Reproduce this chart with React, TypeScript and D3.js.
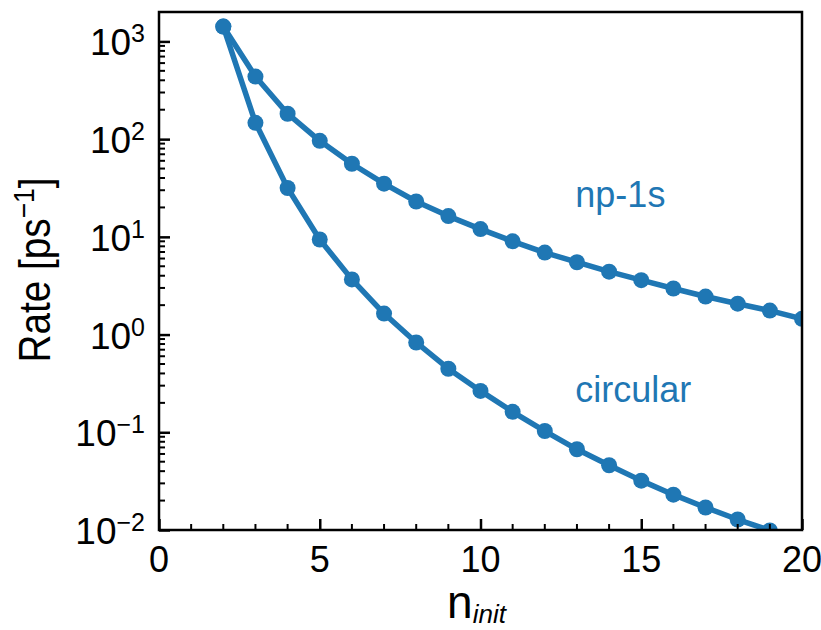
import React, { useEffect, useRef } from 'react';
import * as d3 from 'd3';

// n_init values and rates (ps^-1)
const nInit = [2, 3, 4, 5, 6, 7, 8, 9, 10, 11, 12, 13, 14, 15, 16, 17, 18, 19, 20];
const np1s = [1420, 437, 182, 96, 56, 35, 23, 16.3, 12, 9.0, 6.9, 5.5, 4.4, 3.6, 2.96, 2.45, 2.07, 1.76, 1.45];
const circular = [1420, 147, 31.6, 9.4, 3.67, 1.64, 0.83, 0.447, 0.265, 0.162, 0.103, 0.067, 0.046, 0.032, 0.023, 0.017, 0.0128, 0.0099];
const xTicks = [0, 5, 10, 15, 20];
const yTickExps = [-2, -1, 0, 1, 2, 3];
const seriesLabels = [
  { text: 'np-1s', n: 12.95, v: 20 },
  { text: 'circular', n: 12.95, v: 0.205 },
];

const BLUE = '#1f77b4';
const FONT = '"Liberation Sans", Arial, Helvetica, sans-serif';

const App = () => {
  const ref = useRef<SVGSVGElement>(null);
  const dim = { width: 821, height: 630 };
  const m = { left: 159, right: 802, top: 12, bottom: 530 };

  useEffect(() => {
    const svg = d3.select(ref.current);
    svg.selectAll('*').remove();

    const x = d3.scaleLinear().domain([0, 20]).range([m.left, m.right]);
    const y = d3.scaleLog().domain([1e-2, 2e3]).range([m.bottom, m.top]);

    svg
      .append('defs')
      .append('clipPath')
      .attr('id', 'plotclip')
      .append('rect')
      .attr('x', m.left)
      .attr('y', m.top)
      .attr('width', m.right - m.left)
      .attr('height', m.bottom - m.top);

    //series
    const plot = svg.append('g').attr('clip-path', 'url(#plotclip)');
    const line = d3
      .line<[number, number]>()
      .x((d) => x(d[0]))
      .y((d) => y(d[1]));

    [np1s, circular].forEach((vals) => {
      const pts: [number, number][] = vals.map((v, i) => [nInit[i], v]);
      plot
        .append('path')
        .datum(pts)
        .attr('d', line)
        .attr('fill', 'none')
        .attr('stroke', BLUE)
        .attr('stroke-width', 5.5)
        .attr('stroke-linejoin', 'round');
      plot
        .selectAll(null)
        .data(pts)
        .enter()
        .append('circle')
        .attr('cx', (d) => x(d[0]))
        .attr('cy', (d) => y(d[1]))
        .attr('r', 8)
        .attr('fill', BLUE);
    });

    //series labels
    seriesLabels.forEach((l) => {
      svg
        .append('text')
        .attr('x', x(l.n))
        .attr('y', y(l.v))
        .attr('fill', BLUE)
        .attr('font-family', FONT)
        .attr('font-size', 36)
        .text(l.text);
    });

    //frame
    svg
      .append('rect')
      .attr('x', m.left)
      .attr('y', m.top)
      .attr('width', m.right - m.left)
      .attr('height', m.bottom - m.top)
      .attr('fill', 'none')
      .attr('stroke', '#000')
      .attr('stroke-width', 2.5);

    //x ticks (inward)
    const xMinor = d3.range(0, 21, 1).filter((v) => v % 5 !== 0);
    const gx = svg.append('g').attr('transform', `translate(0,${m.bottom})`);
    gx.call(d3.axisBottom(x).tickValues(xTicks).tickSizeInner(-11).tickSizeOuter(0).tickFormat(() => ''));
    gx.select('.domain').remove();
    gx.selectAll('.tick line').attr('stroke-width', 2.5);
    gx.selectAll(null)
      .data(xMinor)
      .enter()
      .append('line')
      .attr('x1', (d) => x(d))
      .attr('x2', (d) => x(d))
      .attr('y1', 0)
      .attr('y2', -6)
      .attr('stroke', '#000')
      .attr('stroke-width', 2);
    svg
      .selectAll(null)
      .data(xTicks)
      .enter()
      .append('text')
      .attr('x', (d) => x(d))
      .attr('y', 572)
      .attr('text-anchor', 'middle')
      .attr('font-family', FONT)
      .attr('font-size', 36)
      .text((d) => d);

    //y ticks (inward)
    const yMajor = yTickExps.map((e) => Math.pow(10, e));
    const yMinor: number[] = [];
    yTickExps.forEach((e) => {
      for (let k = 2; k <= 9; k++) {
        const v = k * Math.pow(10, e);
        if (v <= 2e3) yMinor.push(v);
      }
    });
    const gy = svg.append('g').attr('transform', `translate(${m.left},0)`);
    gy.call(d3.axisLeft(y).tickValues(yMajor).tickSizeInner(-11).tickSizeOuter(0).tickFormat(() => ''));
    gy.select('.domain').remove();
    gy.selectAll('.tick line').attr('stroke-width', 2.5);
    gy.selectAll(null)
      .data(yMinor)
      .enter()
      .append('line')
      .attr('x1', 0)
      .attr('x2', 6)
      .attr('y1', (d) => y(d))
      .attr('y2', (d) => y(d))
      .attr('stroke', '#000')
      .attr('stroke-width', 2);

    const yl = svg
      .selectAll(null)
      .data(yTickExps)
      .enter()
      .append('text')
      .attr('x', 145)
      .attr('y', (d) => y(Math.pow(10, d)) + 14)
      .attr('text-anchor', 'end')
      .attr('font-family', FONT)
      .attr('font-size', 37);
    yl.append('tspan').text('10');
    yl.append('tspan')
      .attr('dy', -13)
      .attr('font-size', 25)
      .text((d) => (d < 0 ? '\u2212' + Math.abs(d) : String(d)));

    //axis titles
    const xt = svg
      .append('text')
      .attr('x', x(10) - 4)
      .attr('y', 618)
      .attr('text-anchor', 'middle')
      .attr('font-family', FONT)
      .attr('font-size', 46);
    xt.append('tspan').text('n');
    xt.append('tspan').attr('dy', 5).attr('font-size', 26).attr('font-style', 'italic').text('init');

    const yt = svg
      .append('text')
      .attr('transform', `translate(50,270) rotate(-90) scale(0.88,1)`)
      .attr('text-anchor', 'middle')
      .attr('font-family', FONT)
      .attr('font-size', 44);
    yt.append('tspan').text('Rate [ps');
    yt.append('tspan').attr('dy', -16).attr('font-size', 30).text('\u22121');
    yt.append('tspan').attr('dy', 16).text(']');
  });

  return (
    <div style={{ position: 'absolute', left: 0, top: 0 }}>
      <svg ref={ref} width={dim.width} height={dim.height} style={{ display: 'block', background: '#fff' }}></svg>
    </div>
  );
};

export default App;
